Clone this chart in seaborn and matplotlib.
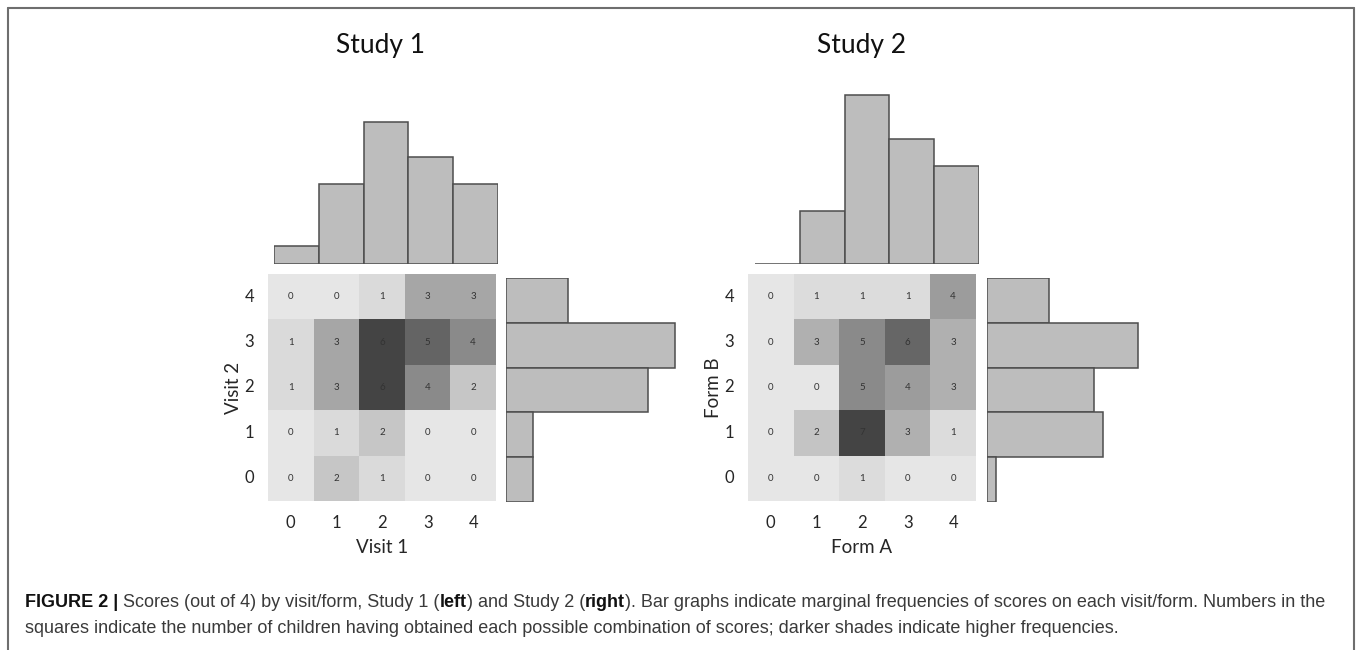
import numpy as np
import pandas as pd
import matplotlib
matplotlib.use("Agg")
import matplotlib.pyplot as plt
import seaborn as sns
from matplotlib.colors import LinearSegmentedColormap
from matplotlib.lines import Line2D

# scores 0-4; heatmap rows listed from score 4 (top) down to 0
scores = [0, 1, 2, 3, 4]
rows_top_down = [4, 3, 2, 1, 0]

# Study 1: rows = Visit 2 score, columns = Visit 1 score
study1_counts = [
    [0, 0, 1, 3, 3],   # visit 2 = 4
    [1, 3, 6, 5, 4],   # visit 2 = 3
    [1, 3, 6, 4, 2],   # visit 2 = 2
    [0, 1, 2, 0, 0],   # visit 2 = 1
    [0, 2, 1, 0, 0],   # visit 2 = 0
]
# Study 2: rows = Form B score, columns = Form A score
study2_counts = [
    [0, 1, 1, 1, 4],
    [0, 3, 5, 6, 3],
    [0, 0, 5, 4, 3],
    [0, 2, 7, 3, 1],
    [0, 0, 1, 0, 0],
]

# marginal frequencies (bar graphs)
study1_visit1 = [2, 9, 16, 12, 9]
study1_visit2 = [3, 3, 16, 19, 7]
study2_formA = [0, 6, 19, 14, 11]
study2_formB = [1, 13, 12, 17, 7]

titles = ["Study 1", "Study 2"]
xlabels = ["Visit 1", "Form A"]
ylabels = ["Visit 2", "Form B"]

W, H = 1358, 650
fig = plt.figure(figsize=(W / 100, H / 100), dpi=100)
sns.set_style("white")
plt.rcParams["font.family"] = ["Lato", "DejaVu Sans"]

BAR_FILL = "#bdbdbd"
BAR_EDGE = "#4d4d4d"
TEXT = "#262626"

# grey ramps used for the shading of each panel
ramp1 = ["#e6e6e6", "#dadada", "#c6c6c6", "#a6a6a6", "#8a8a8a", "#646464", "#444444"]
ramp2 = ["#e6e6e6", "#dcdcdc", "#c4c4c4", "#b0b0b0", "#9c9c9c", "#8a8a8a", "#666666", "#444444"]


def px_axes(left, top, width, height):
    return fig.add_axes([left / W, 1 - (top + height) / H, width / W, height / H])


PX_PER_COUNT = 8.9
MAXC = 20

panels = [
    dict(counts=study1_counts, top=study1_visit1, right=study1_visit2, ramp=ramp1,
         hx=268, bx=274, rx=506, tx=380),
    dict(counts=study2_counts, top=study2_formA, right=study2_formB, ramp=ramp2,
         hx=748, bx=755, rx=987, tx=862),
]

for i, p in enumerate(panels):
    df = pd.DataFrame(p["counts"], index=rows_top_down, columns=scores)
    cmap = LinearSegmentedColormap.from_list("g", p["ramp"])
    ax = px_axes(p["hx"], 274, 228, 227)
    sns.heatmap(df, ax=ax, cmap=cmap, vmin=0, vmax=df.values.max(), cbar=False,
                annot=True, fmt="d", annot_kws={"size": 7, "color": "#333333"},
                linewidths=0)
    ax.tick_params(axis="x", length=0, labelsize=12, colors=TEXT, pad=10)
    ax.tick_params(axis="y", length=0, labelsize=12, colors=TEXT, pad=10)
    ax.set_yticklabels(ax.get_yticklabels(), rotation=0)
    ax.set_xlabel(xlabels[i], fontsize=13.5, color=TEXT, labelpad=6)
    ax.set_ylabel(ylabels[i], fontsize=13.5, color=TEXT, labelpad=2)

    # top marginal bars
    axt = px_axes(p["bx"], 264 - PX_PER_COUNT * MAXC, 224, PX_PER_COUNT * MAXC)
    tdf = pd.DataFrame({"score": scores, "n": p["top"]})
    sns.barplot(data=tdf, x="score", y="n", ax=axt, color=BAR_FILL, width=1,
                edgecolor=BAR_EDGE, linewidth=1.1, saturation=1)
    axt.set_ylim(0, MAXC)
    axt.set_xlim(-0.5, 4.5)
    axt.axis("off")

    # right marginal bars
    axr = px_axes(p["rx"], 278, PX_PER_COUNT * MAXC, 224)
    rdf = pd.DataFrame({"score": scores, "n": p["right"]})
    sns.barplot(data=rdf, y="score", x="n", ax=axr, orient="h", order=rows_top_down,
                color=BAR_FILL, width=1, edgecolor=BAR_EDGE, linewidth=1.1, saturation=1)
    axr.set_xlim(0, MAXC)
    axr.set_ylim(4.5, -0.5)
    axr.axis("off")

    fig.text(p["tx"] / W, 1 - 45 / H, titles[i], ha="center", va="center",
             fontsize=19, color="#111111")

# frame around the figure (open at the bottom)
fc = "#6e6e6e"
fig.add_artist(Line2D([8 / W, 1354 / W], [1 - 8 / H, 1 - 8 / H], color=fc, lw=1.5))
fig.add_artist(Line2D([8 / W, 8 / W], [0, 1 - 8 / H], color=fc, lw=1.5))
fig.add_artist(Line2D([1354 / W, 1354 / W], [0, 1 - 8 / H], color=fc, lw=1.5))

# caption with bold fragments
cap = fig.add_axes([0, 0, 1, 1], zorder=-1)
cap.axis("off")
cfont = ["Liberation Sans", "DejaVu Sans"]
csize = 13.0
lines = [
    [("FIGURE 2 |", "bold", "#111111"),
     (" Scores (out of 4) by visit/form, Study 1 (", "normal", "#3a3a3a"),
     ("left", "bold", "#111111"),
     (") and Study 2 (", "normal", "#3a3a3a"),
     ("right", "bold", "#111111"),
     ("). Bar graphs indicate marginal frequencies of scores on each visit/form. Numbers in the",
      "normal", "#3a3a3a")],
    [("squares indicate the number of children having obtained each possible combination of scores; "
      "darker shades indicate higher frequencies.", "normal", "#3a3a3a")],
]
for li, parts in enumerate(lines):
    y = 1 - (607 + li * 26) / H
    prev = None
    for s, w, c in parts:
        if prev is None:
            prev = cap.text(25 / W, y, s, transform=cap.transAxes, fontsize=csize,
                            fontweight=w, color=c, family=cfont, va="baseline", ha="left")
        else:
            prev = cap.annotate(s, xy=(1, 0), xycoords=prev, fontsize=csize,
                                fontweight=w, color=c, family=cfont, va="bottom", ha="left")

fig.savefig("out.png", dpi=100, facecolor="white")
